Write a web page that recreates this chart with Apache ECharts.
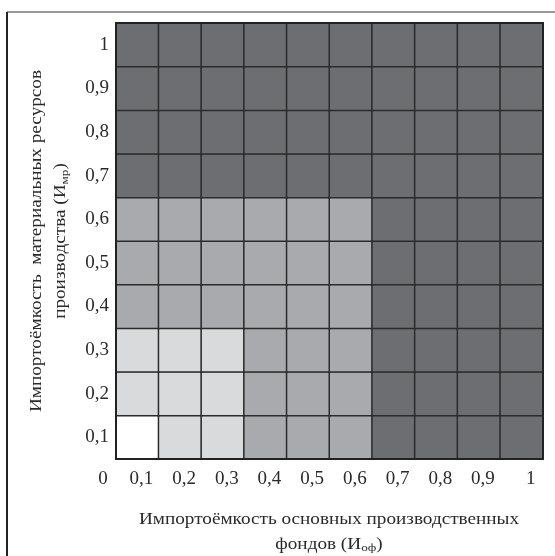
<!DOCTYPE html>
<html><head><meta charset="utf-8">
<script src="https://cdn.jsdelivr.net/npm/echarts@6/dist/echarts.min.js"></script>
<style>html,body{margin:0;padding:0;background:#fff}#c{width:555px;height:556px}</style>
</head><body><div id="c"></div>
<script>
const xLabels = ['0,1','0,2','0,3','0,4','0,5','0,6','0,7','0,8','0,9','1'];
const yLabels = ['0,1','0,2','0,3','0,4','0,5','0,6','0,7','0,8','0,9','1'];
const originLabel = '0';
// zone level per row (bottom row first): 0 white, 1 light, 2 medium, 3 dark
const row01 = [0,1,1,2,2,2,3,3,3,3];
const row02 = [1,1,1,2,2,2,3,3,3,3];
const row03 = [1,1,1,2,2,2,3,3,3,3];
const row04 = [2,2,2,2,2,2,3,3,3,3];
const row05 = [2,2,2,2,2,2,3,3,3,3];
const row06 = [2,2,2,2,2,2,3,3,3,3];
const row07 = [3,3,3,3,3,3,3,3,3,3];
const row08 = [3,3,3,3,3,3,3,3,3,3];
const row09 = [3,3,3,3,3,3,3,3,3,3];
const row10 = [3,3,3,3,3,3,3,3,3,3];
const rows = [row01,row02,row03,row04,row05,row06,row07,row08,row09,row10];
const zoneColors = ['#ffffff','#d9dadc','#a9aaad','#6d6e72'];

const data = [];
rows.forEach((r, yi) => r.forEach((v, xi) => data.push([xi, yi, v])));

const font = 'Liberation Serif';
const txt = '#2a2a2a';
const chart = echarts.init(document.getElementById('c'));
chart.setOption({
  animation: false,
  backgroundColor: '#fff',
  grid: {left: 116, top: 23, right: 12, bottom: 97, show: true, borderColor: '#222', borderWidth: 2, z: 5},
  xAxis: {
    type: 'category', data: xLabels,
    axisLine: {show: false}, axisTick: {show: false}, splitLine: {show: false},
    axisLabel: {
      interval: 0, margin: 11, fontFamily: font, fontSize: 19, color: txt,
      formatter: (v, i) => i === xLabels.length - 1 ? '{last|' + v + '}' : '{n|' + v + '}',
      rich: {
        n: {fontFamily: font, fontSize: 19, color: txt, padding: [0,0,0,8]},
        last: {fontFamily: font, fontSize: 19, color: txt, padding: [0,0,0,18]}
      }
    }
  },
  yAxis: {
    type: 'category', data: yLabels,
    axisLine: {show: false}, axisTick: {show: false}, splitLine: {show: false},
    axisLabel: {interval: 0, margin: 7, fontFamily: font, fontSize: 19, color: txt}
  },
  visualMap: {
    show: false, type: 'piecewise', dimension: 2,
    pieces: zoneColors.map((c, i) => ({value: i, color: c}))
  },
  series: [{
    type: 'heatmap', data: data,
    itemStyle: {borderColor: '#2b2b2b', borderWidth: 1.5},
    emphasis: {disabled: true}
  }],
  graphic: [
    {type: 'line', shape: {x1: 7, y1: 12, x2: 555, y2: 12}, style: {stroke: '#999', lineWidth: 2}},
    {type: 'line', shape: {x1: 7, y1: 12, x2: 7, y2: 556}, style: {stroke: '#222', lineWidth: 2}},
    {type: 'text', x: 103, y: 479, style: {text: originLabel, font: '19px "' + font + '"', fill: txt, align: 'center', verticalAlign: 'middle'}},
    {type: 'text', x: 329, y: 532, scaleX: 1.2, style: {
      text: 'Импортоёмкость основных производственных\nфондов (И{sub|оф})',
      font: '16px "' + font + '"', fill: txt, align: 'center', verticalAlign: 'middle', lineHeight: 25,
      rich: {sub: {fontFamily: font, fontSize: 11, fill: txt, padding: [8,0,0,0]}}
    }},
    {type: 'text', x: 49, y: 241, rotation: Math.PI / 2, scaleX: 1.2, style: {
      text: 'Импортоёмкость  материальных ресурсов\nпроизводства (И{sub|мр})',
      font: '16px "' + font + '"', fill: txt, align: 'center', verticalAlign: 'middle', lineHeight: 24,
      rich: {sub: {fontFamily: font, fontSize: 11, fill: txt, padding: [8,0,0,0]}}
    }}
  ]
});
</script></body></html>
